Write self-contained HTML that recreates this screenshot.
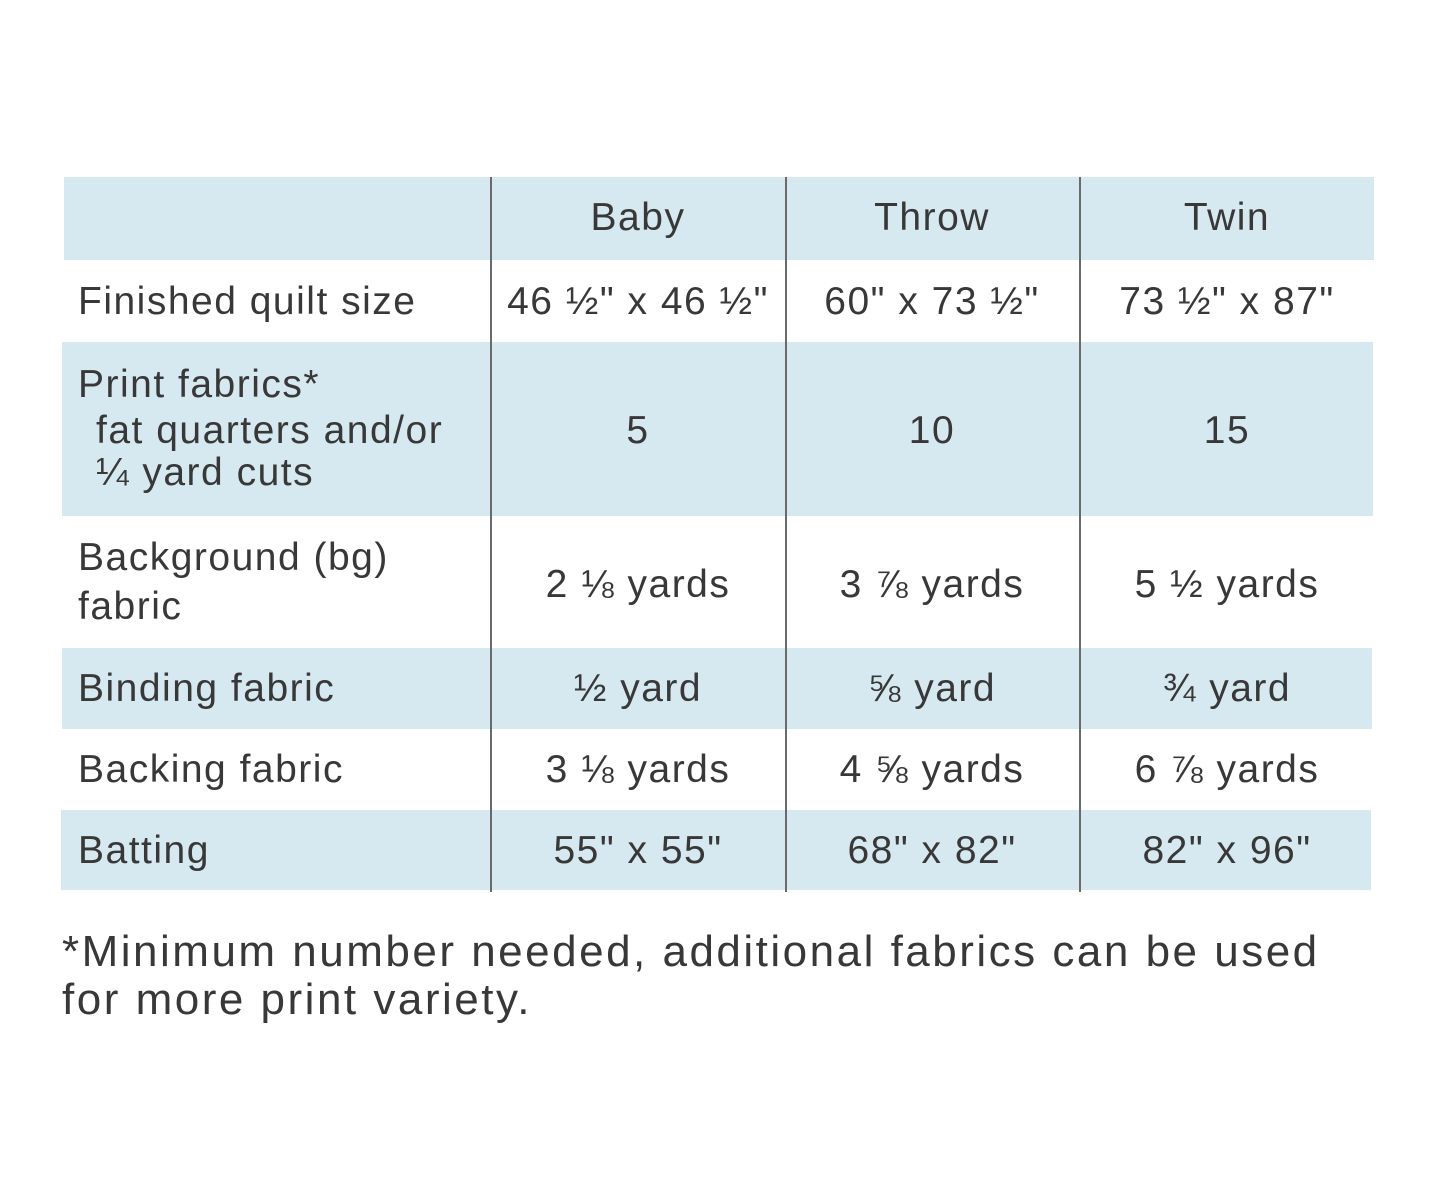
<!DOCTYPE html>
<html><head><meta charset="utf-8"><style>
body{margin:0;width:1445px;height:1182px;background:#fff;position:relative;overflow:hidden;font-family:"Liberation Sans",sans-serif;color:#383838}
.b{position:absolute;background:#d6e8f0}
.v{position:absolute;width:2px;background:#6a6a6a;top:177px;height:715px}
.t{position:absolute;font-size:39px;line-height:44px;white-space:nowrap;letter-spacing:1.5px}
.c{transform:translateX(-50%)}
.f{position:absolute;left:62px;font-size:44px;line-height:48px;white-space:nowrap;letter-spacing:2.5px}
</style></head><body>
<div class="b" style="left:64px;top:177px;width:1310px;height:83px"></div>
<div class="b" style="left:62px;top:342px;width:1311px;height:174px"></div>
<div class="b" style="left:62px;top:648px;width:1310px;height:81px"></div>
<div class="b" style="left:61px;top:810px;width:1310px;height:80px"></div>
<div class="v" style="left:490px"></div>
<div class="v" style="left:785px"></div>
<div class="v" style="left:1079px"></div>

<div class="t c" style="left:638px;top:196px">Baby</div>
<div class="t c" style="left:932px;top:196px">Throw</div>
<div class="t c" style="left:1227px;top:196px">Twin</div>

<div class="t" style="left:78px;top:280px">Finished quilt size</div>
<div class="t c" style="left:638px;top:280px">46 ½" x 46 ½"</div>
<div class="t c" style="left:932px;top:280px">60" x 73 ½"</div>
<div class="t c" style="left:1227px;top:280px">73 ½" x 87"</div>

<div class="t" style="left:78px;top:363px">Print fabrics*</div>
<div class="t" style="left:96px;top:409px">fat quarters and/or</div>
<div class="t" style="left:96px;top:451px">¼ yard cuts</div>
<div class="t c" style="left:638px;top:409px">5</div>
<div class="t c" style="left:932px;top:409px">10</div>
<div class="t c" style="left:1227px;top:409px">15</div>

<div class="t" style="left:78px;top:536px">Background (bg)</div>
<div class="t" style="left:78px;top:585px">fabric</div>
<div class="t c" style="left:638px;top:563px">2 ⅛ yards</div>
<div class="t c" style="left:932px;top:563px">3 ⅞ yards</div>
<div class="t c" style="left:1227px;top:563px">5 ½ yards</div>

<div class="t" style="left:78px;top:667px">Binding fabric</div>
<div class="t c" style="left:638px;top:667px">½ yard</div>
<div class="t c" style="left:932px;top:667px">⅝ yard</div>
<div class="t c" style="left:1227px;top:667px">¾ yard</div>

<div class="t" style="left:78px;top:748px">Backing fabric</div>
<div class="t c" style="left:638px;top:748px">3 ⅛ yards</div>
<div class="t c" style="left:932px;top:748px">4 ⅝ yards</div>
<div class="t c" style="left:1227px;top:748px">6 ⅞ yards</div>

<div class="t" style="left:78px;top:829px">Batting</div>
<div class="t c" style="left:638px;top:829px">55" x 55"</div>
<div class="t c" style="left:932px;top:829px">68" x 82"</div>
<div class="t c" style="left:1227px;top:829px">82" x 96"</div>

<div class="f" style="top:928px">*Minimum number needed, additional fabrics can be used</div>
<div class="f" style="top:976px">for more print variety.</div>
</body></html>
